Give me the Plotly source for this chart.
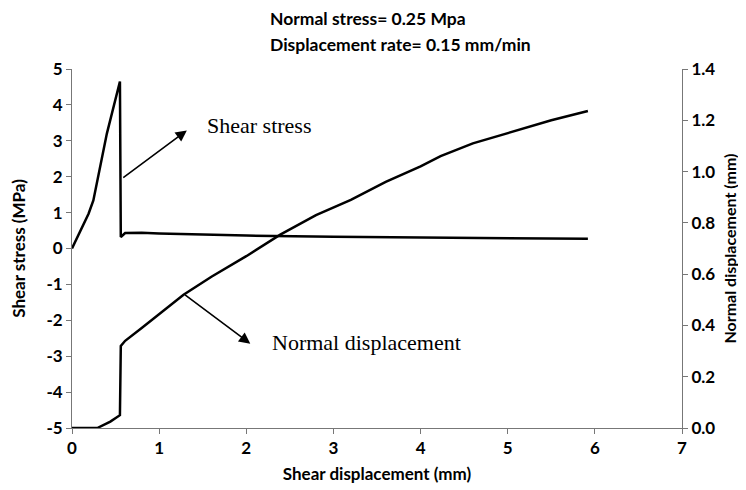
import plotly.graph_objects as go

# Shear stress (MPa) vs shear displacement (mm)
stress_x = [0.0, 0.19, 0.245, 0.40, 0.55, 0.56, 0.61, 0.8, 1.0, 1.5, 2.0, 3.0, 4.0, 5.0, 5.92]
stress_y = [0.0, 0.97, 1.34, 3.2, 4.65, 0.32, 0.43, 0.44, 0.42, 0.38, 0.36, 0.33, 0.31, 0.29, 0.27]

# Normal displacement (mm) vs shear displacement (mm)
normal_x = [0.0, 0.29, 0.44, 0.55, 0.56, 0.61, 0.8, 1.0, 1.28, 1.6, 2.0, 2.39, 2.8, 3.2, 3.6, 4.0, 4.23, 4.6, 5.07, 5.5, 5.92]
normal_y = [0.0, 0.0, 0.025, 0.05, 0.32, 0.34, 0.39, 0.445, 0.52, 0.59, 0.67, 0.754, 0.83, 0.89, 0.96, 1.02, 1.06, 1.11, 1.157, 1.20, 1.236]

left_ticks = [5, 4, 3, 2, 1, 0, -1, -2, -3, -4, -5]
left_labels = ["5", "4", "3", "2", "1", "0", "-1", "-2", "-3", "-4", "-5"]
right_ticks = [0.0, 0.2, 0.4, 0.6, 0.8, 1.0, 1.2, 1.4]
right_labels = ["0.0", "0.2", "0.4", "0.6", "0.8", "1.0", "1.2", "1.4"]
x_ticks = [0, 1, 2, 3, 4, 5, 6, 7]

sans = "Lato, 'Open Sans', sans-serif"
serif = "Liberation Serif, 'Times New Roman', serif"

fig = go.Figure()
fig.add_trace(go.Scatter(x=stress_x, y=stress_y, mode="lines",
                         line=dict(color="black", width=2.5), yaxis="y"))
fig.add_trace(go.Scatter(x=normal_x, y=normal_y, mode="lines",
                         line=dict(color="black", width=2.5), yaxis="y2"))

tickfont = dict(family=sans, size=17, color="black", weight="bold")
axis_common = dict(showgrid=False, zeroline=False, showline=True, linecolor="#777",
                   linewidth=1, ticks="outside", ticklen=5, tickcolor="#777",
                   tickfont=tickfont, automargin=False)

fig.update_layout(
    width=746, height=490,
    margin=dict(l=64, r=72, t=61, b=70),
    plot_bgcolor="white", paper_bgcolor="white",
    showlegend=False,
    xaxis=dict(range=[0, 7], tickvals=x_ticks,
               title=dict(text="Shear displacement (mm)",
                          font=dict(family=sans, size=17, color="black", weight="bold"), standoff=10),
               **axis_common),
    yaxis=dict(range=[-5, 5], tickvals=left_ticks, ticktext=left_labels,
               title=dict(text="Shear stress (MPa)",
                          font=dict(family=sans, size=17, color="black", weight="bold"), standoff=16),
               **axis_common),
    yaxis2=dict(range=[0, 1.4], tickvals=right_ticks, ticktext=right_labels,
                overlaying="y", side="right",
                title=dict(text="Normal displacement (mm)",
                           font=dict(family=sans, size=16, color="black", weight="bold"), standoff=10),
                **axis_common),
)

# Title lines
fig.add_annotation(text="Normal stress= 0.25 Mpa", xref="paper", yref="paper",
                   x=(268 - 72) / 610, y=1 + (69 - 19) / 359, xanchor="left", yanchor="middle",
                   showarrow=False, font=dict(family=sans, size=17.5, color="black", weight="bold"))
fig.add_annotation(text="Displacement rate= 0.15 mm/min", xref="paper", yref="paper",
                   x=(268 - 72) / 610, y=1 + (69 - 45) / 359, xanchor="left", yanchor="middle",
                   showarrow=False, font=dict(family=sans, size=17.5, color="black", weight="bold"))

# Arrows
fig.add_annotation(x=1.318, y=3.29, ax=0.571, ay=1.94, xref="x", yref="y", axref="x", ayref="y",
                   text="", showarrow=True, arrowhead=2, arrowsize=1.4, arrowwidth=1.6,
                   arrowcolor="black", standoff=0, startstandoff=0)
fig.add_annotation(x=2.046, y=-2.65, ax=1.28, ay=-1.26, xref="x", yref="y", axref="x", ayref="y",
                   text="", showarrow=True, arrowhead=2, arrowsize=1.4, arrowwidth=1.6,
                   arrowcolor="black", standoff=0, startstandoff=0)

# Labels
fig.add_annotation(text="Shear stress", x=1.529, y=3.43, xref="x", yref="y", xanchor="left",
                   yanchor="middle", showarrow=False, font=dict(family=serif, size=22, color="black"))
fig.add_annotation(text="Normal displacement", x=2.276, y=-2.62, xref="x", yref="y", xanchor="left",
                   yanchor="middle", showarrow=False, font=dict(family=serif, size=22, color="black"))

fig.write_html("out.html")
